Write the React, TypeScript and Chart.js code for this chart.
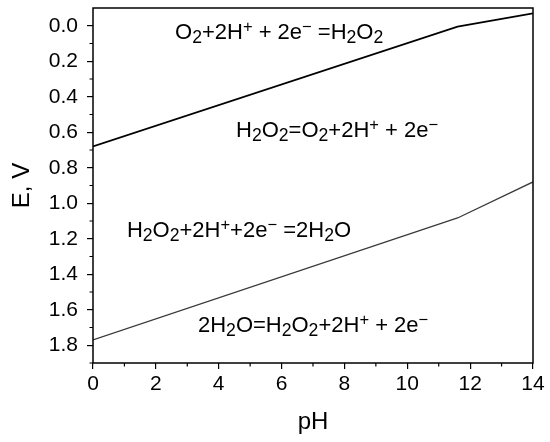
import React, { useEffect, useRef } from "react";
import { Chart, registerables } from "chart.js";

Chart.register(...registerables);

// ---- data ----
const phPoints = [0, 11.6, 14];
const eUpper = [0.68, 0.005, -0.07];
const eLower = [1.77, 1.083, 0.88];

const xTickValues = [0, 2, 4, 6, 8, 10, 12, 14];
const xMinorTicks = [1, 3, 5, 7, 9, 11, 13];
const yTickValues = [0, 0.2, 0.4, 0.6, 0.8, 1.0, 1.2, 1.4, 1.6, 1.8];
const yMinorTicks = [0.1, 0.3, 0.5, 0.7, 0.9, 1.1, 1.3, 1.5, 1.7, 1.9];

const xTitle = "pH";
const yTitle = "E, V";

// "_x" = subscript x, "^x" = superscript x
const reactionLabels = [
  "O_2+2H^+ + 2e^\u2212 =H_2O_2",
  "H_2O_2=O_2+2H^+ + 2e^\u2212",
  "H_2O_2+2H^++2e^\u2212 =2H_2O",
  "2H_2O=H_2O_2+2H^+ + 2e^\u2212",
];
const labelPH = [2.61, 4.55, 1.08, 3.34];
const labelE = [0.073, 0.627, 1.19, 1.725];

const FONT = '"Liberation Sans", Arial, Helvetica, sans-serif';

function drawRich(ctx: CanvasRenderingContext2D, s: string, x: number, y: number, size: number) {
  let cx = x;
  let i = 0;
  ctx.textAlign = "left";
  ctx.textBaseline = "alphabetic";
  while (i < s.length) {
    const c = s[i];
    if ((c === "_" || c === "^") && i + 1 < s.length) {
      const ch = s[i + 1];
      const fs = c === "_" ? size * 0.8 : size * 0.75;
      const dy = c === "_" ? size * 0.18 : -size * 0.3;
      ctx.font = `${fs}px ${FONT}`;
      ctx.fillText(ch, cx, y + dy);
      cx += ctx.measureText(ch).width;
      i += 2;
    } else {
      ctx.font = `${size}px ${FONT}`;
      ctx.fillText(c, cx, y);
      cx += ctx.measureText(c).width;
      i += 1;
    }
  }
}

const decorPlugin = {
  id: "decor",
  afterDraw(chart: any) {
    const { ctx, chartArea, scales } = chart;
    const xs = scales.x;
    const ys = scales.y;
    ctx.save();
    // frame
    ctx.strokeStyle = "#000";
    ctx.lineWidth = 1.5;
    ctx.strokeRect(chartArea.left, chartArea.top, chartArea.right - chartArea.left, chartArea.bottom - chartArea.top);
    // minor ticks
    ctx.lineWidth = 1.2;
    ctx.beginPath();
    for (const v of xMinorTicks) {
      const px = xs.getPixelForValue(v);
      ctx.moveTo(px, chartArea.bottom);
      ctx.lineTo(px, chartArea.bottom + 3.5);
    }
    for (const v of yMinorTicks) {
      const py = ys.getPixelForValue(v);
      ctx.moveTo(chartArea.left, py);
      ctx.lineTo(chartArea.left - 3.5, py);
    }
    ctx.stroke();
    // axis titles
    ctx.fillStyle = "#000";
    ctx.font = `24px ${FONT}`;
    ctx.textAlign = "center";
    ctx.textBaseline = "middle";
    ctx.fillText(xTitle, (chartArea.left + chartArea.right) / 2, 422);
    ctx.save();
    ctx.translate(22, (chartArea.top + chartArea.bottom) / 2);
    ctx.rotate(-Math.PI / 2);
    ctx.fillText(yTitle, 0, 0);
    ctx.restore();
    // reaction labels
    ctx.fillStyle = "#000";
    reactionLabels.forEach((s, k) => {
      drawRich(ctx, s, xs.getPixelForValue(labelPH[k]), ys.getPixelForValue(labelE[k]), 22);
    });
    ctx.restore();
  },
};

export default function App() {
  const ref = useRef<HTMLCanvasElement>(null);
  useEffect(() => {
    if (!ref.current) return;
    const chart = new Chart(ref.current, {
      type: "line",
      data: {
        datasets: [
          {
            data: phPoints.map((x, i) => ({ x, y: eUpper[i] })),
            borderColor: "#000",
            borderWidth: 1.7,
            pointRadius: 0,
            tension: 0,
            fill: false,
          },
          {
            data: phPoints.map((x, i) => ({ x, y: eLower[i] })),
            borderColor: "#3a3a3a",
            borderWidth: 1.3,
            pointRadius: 0,
            tension: 0,
            fill: false,
          },
        ],
      },
      options: {
        responsive: false,
        animation: false,
        layout: { padding: { top: 8, right: 17, left: 0, bottom: 0 } },
        plugins: { legend: { display: false }, tooltip: { enabled: false } },
        scales: {
          x: {
            type: "linear",
            min: 0,
            max: 14,
            afterBuildTicks: (s: any) => {
              s.ticks = xTickValues.map((v) => ({ value: v }));
            },
            afterFit: (s: any) => {
              s.height = 79;
              s.paddingLeft = 0;
              s.paddingRight = 0;
            },
            ticks: {
              color: "#000",
              font: { size: 21, family: FONT },
              padding: 3,
              maxRotation: 0,
              autoSkip: false,
              callback: (v: any) => String(v),
            },
            grid: { display: true, drawOnChartArea: false, drawTicks: true, tickLength: 6, color: "#000", lineWidth: 1.2 },
            border: { display: false },
          },
          y: {
            type: "linear",
            min: -0.1,
            max: 1.9,
            reverse: true,
            afterBuildTicks: (s: any) => {
              s.ticks = yTickValues.map((v) => ({ value: v }));
            },
            afterFit: (s: any) => {
              s.width = 93;
              s.paddingTop = 0;
              s.paddingBottom = 0;
            },
            ticks: {
              color: "#000",
              font: { size: 21, family: FONT },
              padding: 9,
              autoSkip: false,
              callback: (v: any) => Number(v).toFixed(1),
            },
            grid: { display: true, drawOnChartArea: false, drawTicks: true, tickLength: 6, color: "#000", lineWidth: 1.2 },
            border: { display: false },
          },
        },
      },
      plugins: [decorPlugin],
    } as any);
    return () => chart.destroy();
  }, []);
  return (
    <div style={{ position: "fixed", left: 0, top: 0, width: 550, height: 442, background: "#fff" }}>
      <canvas ref={ref} width={550} height={442} />
    </div>
  );
}
